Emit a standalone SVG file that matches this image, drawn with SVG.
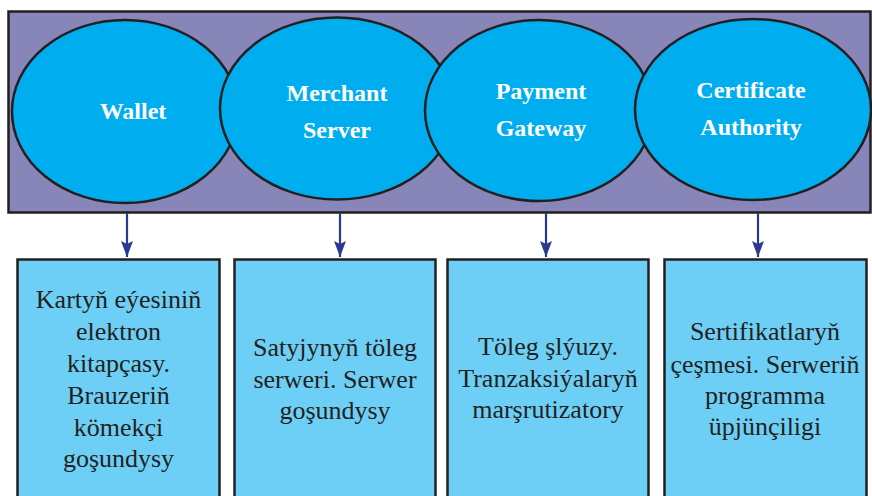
<svg xmlns="http://www.w3.org/2000/svg" width="872" height="496" viewBox="0 0 872 496">
<style>
.ell{fill:#00AEEF;stroke:#231F20;stroke-width:2.5}
.box{fill:#6DCFF6;stroke:#231F20;stroke-width:2.5}
.t{font-family:"Liberation Serif","Times New Roman",serif;font-weight:bold;font-size:24px;fill:#FFFFFF;text-anchor:middle}
.d{font-family:"Liberation Serif","Times New Roman",serif;font-size:26px;fill:#231F20;text-anchor:middle}
.conn{stroke:#2B3990;stroke-width:2.2;fill:none}
</style>
<defs>
<marker id="ah" markerWidth="17" markerHeight="12" refX="16" refY="6" orient="auto" markerUnits="userSpaceOnUse" viewBox="0 0 17 12">
<path d="M0,0 L16,6 L0,12 L3,6 Z" fill="#2B3990"/>
</marker>
</defs>
<rect id="band" x="8.5" y="11.5" width="862" height="201" fill="#8886B9" stroke="#231F20" stroke-width="2.5"/>
<g id="wallet">
<ellipse class="ell" cx="125" cy="111.5" rx="113" ry="91.5"/>
<text class="t" x="133" y="119">Wallet</text>
</g>
<g id="merchant">
<ellipse class="ell" cx="337" cy="108.5" rx="117" ry="91"/>
<text class="t" x="337" y="101">Merchant</text>
<text class="t" x="337" y="138">Server</text>
</g>
<g id="gateway">
<ellipse class="ell" cx="539" cy="110.5" rx="114" ry="90.5"/>
<text class="t" x="541" y="99">Payment</text>
<text class="t" x="541" y="136">Gateway</text>
</g>
<g id="ca">
<ellipse class="ell" cx="753" cy="109.5" rx="118" ry="90.5"/>
<text class="t" x="751" y="98">Certificate</text>
<text class="t" x="751" y="135">Authority</text>
</g>
<g id="connectors">
<line class="conn" x1="127" y1="213" x2="127" y2="257" marker-end="url(#ah)"/>
<line class="conn" x1="340" y1="213" x2="340" y2="257" marker-end="url(#ah)"/>
<line class="conn" x1="546" y1="213" x2="546" y2="257" marker-end="url(#ah)"/>
<line class="conn" x1="758" y1="213" x2="758" y2="257" marker-end="url(#ah)"/>
</g>
<g id="box1">
<rect class="box" x="17.5" y="259.5" width="202" height="250"/>
<text class="d" x="118.5" y="308">Kartyň eýesiniň</text>
<text class="d" x="118.5" y="340">elektron</text>
<text class="d" x="118.5" y="372">kitapçasy.</text>
<text class="d" x="118.5" y="404">Brauzeriň</text>
<text class="d" x="118.5" y="436">kömekçi</text>
<text class="d" x="118.5" y="467">goşundysy</text>
</g>
<g id="box2">
<rect class="box" x="234.5" y="259.5" width="201" height="250"/>
<text class="d" x="335" y="356">Satyjynyň töleg</text>
<text class="d" x="335" y="388">serweri. Serwer</text>
<text class="d" x="335" y="419">goşundysy</text>
</g>
<g id="box3">
<rect class="box" x="447.5" y="259.5" width="201" height="250"/>
<text class="d" x="548" y="355">Töleg şlýuzy.</text>
<text class="d" x="548" y="387">Tranzaksiýalaryň</text>
<text class="d" x="548" y="418">marşrutizatory</text>
</g>
<g id="box4">
<rect class="box" x="664.5" y="259.5" width="202" height="250"/>
<text class="d" x="765" y="340">Sertifikatlaryň</text>
<text class="d" x="765" y="373">çeşmesi. Serweriň</text>
<text class="d" x="765" y="404">programma</text>
<text class="d" x="765" y="435">üpjünçiligi</text>
</g>
</svg>
